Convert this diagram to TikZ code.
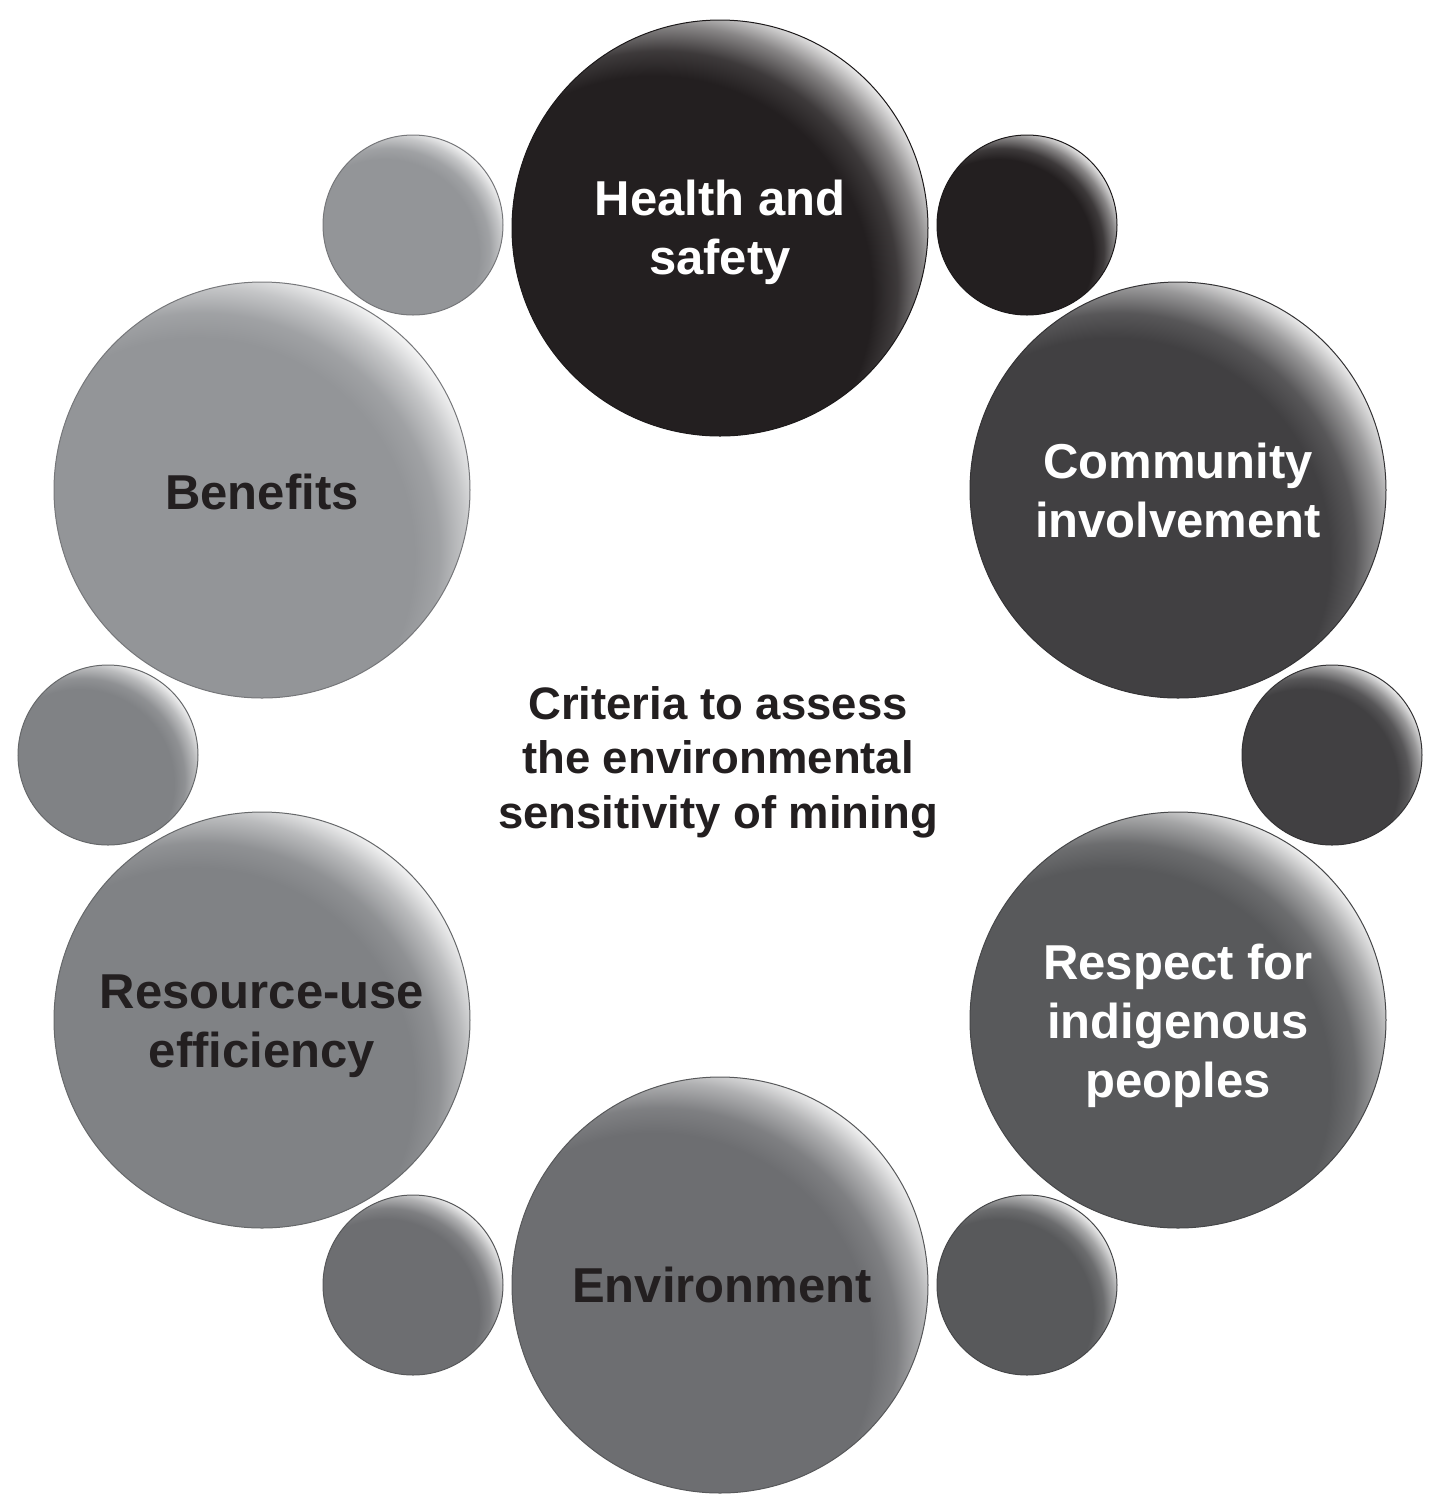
\documentclass[tikz,border=0pt]{standalone}
\usepackage{fontspec}
\setmainfont{Liberation Sans}
\definecolor{cA}{HTML}{231F20}
\definecolor{cB}{HTML}{414042}
\definecolor{cC}{HTML}{58595B}
\definecolor{cD}{HTML}{6D6E71}
\definecolor{cE}{HTML}{808285}
\definecolor{cF}{HTML}{939598}
\newcommand\mkcrescent[1]{\pgfdeclareradialshading{cres#1}{\pgfpoint{-16.75bp}{-16.75bp}}{color(0bp)=(#1); color(26.25bp)=(#1); color(28.5bp)=(white!12!#1); color(30.8bp)=(white!46!#1); color(33bp)=(white!90!#1); color(50bp)=(white)}}
\mkcrescent{cA}\mkcrescent{cB}\mkcrescent{cC}\mkcrescent{cD}\mkcrescent{cE}\mkcrescent{cF}
\newcommand\labfont{\fontsize{24.5pt}{29.5pt}\selectfont\bfseries}
\newcommand\midfont{\fontsize{22.75pt}{27.25pt}\selectfont\bfseries}
\begin{document}
\begin{tikzpicture}[x=0.5pt,y=-0.5pt,
  ball/.style={circle, inner sep=0pt, outer sep=0pt, line width=0.5pt,
    shading=cres#1, draw=#1!80!black},
  bigc/.style={ball=#1, minimum size=208pt},
  smallc/.style={ball=#1, minimum size=90pt},
  label/.style={align=center, font=\labfont, inner sep=0pt},
  lighttext/.style={text=white},
  darktext/.style={text=cA}]
\useasboundingbox (0,0) rectangle (1444,1512);
% small circles
\node[smallc=cA] (s1) at (1027,225) {};
\node[smallc=cB] (s2) at (1332,755) {};
\node[smallc=cC] (s3) at (1027,1285) {};
\node[smallc=cD] (s4) at (413,1285) {};
\node[smallc=cE] (s5) at (108,755) {};
\node[smallc=cF] (s6) at (413,225) {};
% large circles
\node[bigc=cA] (hs) at (720,228) {};
\node[bigc=cB] (ci) at (1178,490) {};
\node[bigc=cC] (ri) at (1178,1020) {};
\node[bigc=cD] (en) at (720,1285) {};
\node[bigc=cE] (re) at (262,1020) {};
\node[bigc=cF] (be) at (262,490) {};
% labels
\node[label, lighttext] (hst) at (720,232) {Health and\\safety};
\node[label, lighttext] (cit) at (1178,490) {Community\\involvement};
\node[label, lighttext] (rit) at (1178,1026) {Respect for\\indigenous\\peoples};
\node[label, darktext] (ent) at (722,1285) {Environment};
\node[label, darktext] (ret) at (262,1026) {Resource-use\\efficiency};
\node[label, darktext] (bet) at (262,492) {Benefits};
% centre text
\node[darktext, align=center, font=\midfont, inner sep=0pt] (ct) at (718,762) {Criteria to assess\\the environmental\\sensitivity of mining};
\end{tikzpicture}
\end{document}
